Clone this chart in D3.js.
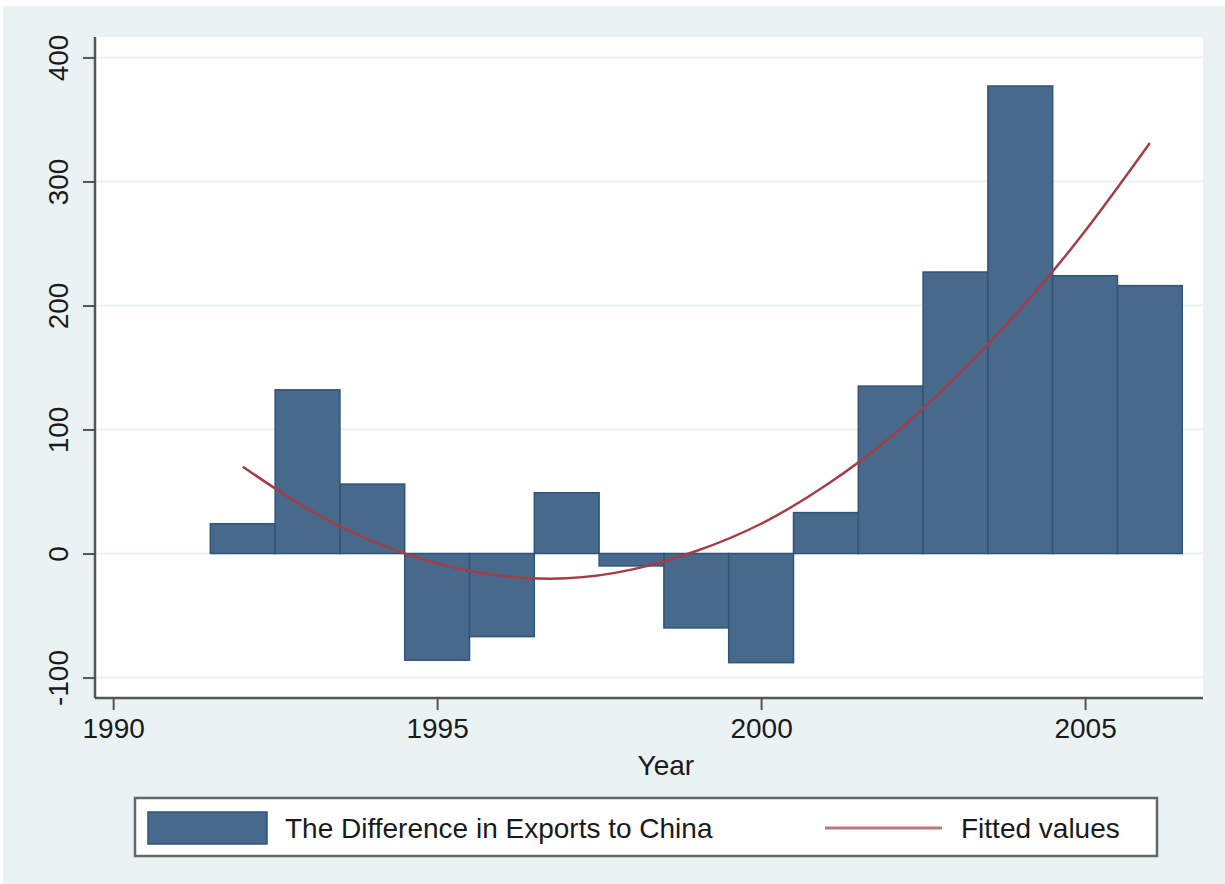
<!DOCTYPE html>
<html lang="en">
<head>
<meta charset="UTF-8">
<title>Difference in Exports to China</title>
<script src="https://d3js.org/d3.v7.min.js"></script>
<style>
  body { margin: 0; background: #fff; }
  text { font-family: "Liberation Sans", Arial, Helvetica, sans-serif; fill: #1a1a1a; }
</style>
</head>
<body>
<svg></svg>
<script>
    // data
    var years = [1992, 1993, 1994, 1995, 1996, 1997, 1998, 1999, 2000, 2001, 2002, 2003, 2004, 2005, 2006];
    var diffExports = [24, 132, 56, -86, -67, 49, -10, -60, -88, 33, 135, 227, 377, 224, 216];
    var fittedValues = [70, 36, 10, -8, -18, -20, -13, 2, 24, 55, 94, 142, 197, 260, 331];
    var xTicks = [1990, 1995, 2000, 2005];
    var yTicks = [-100, 0, 100, 200, 300, 400];
    var legendLabels = ["The Difference in Exports to China", "Fitted values"];

    var width = 1225, height = 884;
    var plot = {left: 95, right: 1203, top: 37, bottom: 698};

    var barColor = "#476a8c", barEdge = "#2f557a", lineColor = "#a23e47";
    var bgColor = "#eaf2f3";

    var svg = d3.select("svg").attr("width", width).attr("height", height);

    svg.append("rect")
        .attr("x", 3).attr("y", 6)
        .attr("width", width - 3).attr("height", height - 6)
        .attr("fill", bgColor);

    svg.append("rect")
        .attr("x", plot.left).attr("y", plot.top)
        .attr("width", plot.right - plot.left).attr("height", plot.bottom - plot.top)
        .attr("fill", "#fff");

    var x = d3.scaleLinear().domain([1989.72, 2006.82]).range([plot.left, plot.right]);
    var y = d3.scaleLinear().domain([-116.5, 416.5]).range([plot.bottom, plot.top]);

    // gridlines
    svg.append("g").selectAll("line")
        .data(yTicks)
        .enter().append("line")
        .attr("x1", plot.left).attr("x2", plot.right)
        .attr("y1", function (d) { return y(d); })
        .attr("y2", function (d) { return y(d); })
        .attr("stroke", bgColor)
        .attr("stroke-width", 2);

    // bars, one year wide
    svg.append("g").selectAll("rect")
        .data(years)
        .enter().append("rect")
        .attr("x", function (d) { return x(d - 0.5); })
        .attr("width", function (d) { return x(d + 0.5) - x(d - 0.5); })
        .attr("y", function (d, i) { return y(Math.max(0, diffExports[i])); })
        .attr("height", function (d, i) { return Math.abs(y(diffExports[i]) - y(0)); })
        .attr("fill", barColor)
        .attr("stroke", barEdge)
        .attr("stroke-width", 1.5);

    // fitted line
    var line = d3.line()
        .x(function (d) { return x(d); })
        .y(function (d, i) { return y(fittedValues[i]); })
        .curve(d3.curveNatural);

    svg.append("path")
        .datum(years)
        .attr("d", line)
        .attr("fill", "none")
        .attr("stroke", lineColor)
        .attr("stroke-width", 2.5);

    // axes
    var yAxis = d3.axisLeft(y).tickValues(yTicks).tickFormat(function (d) { return String(d); })
        .tickSize(12).tickPadding(14);
    var gy = svg.append("g").attr("transform", "translate(" + plot.left + ",0)").call(yAxis);
    gy.select(".domain").attr("d", "M0," + plot.top + "V" + plot.bottom).attr("stroke", "#555").attr("stroke-width", 2.5);
    gy.selectAll(".tick line").attr("stroke", "#555").attr("stroke-width", 2);
    gy.selectAll(".tick text")
        .attr("font-size", 28)
        .attr("x", null).attr("dy", null)
        .attr("text-anchor", "middle")
        .attr("transform", "translate(-27,0) rotate(-90)");

    var xAxis = d3.axisBottom(x).tickValues(xTicks).tickFormat(function (d) { return String(d); })
        .tickSize(12).tickPadding(8);
    var gx = svg.append("g").attr("transform", "translate(0," + plot.bottom + ")").call(xAxis);
    gx.select(".domain").attr("d", "M" + plot.left + ",0H" + plot.right).attr("stroke", "#555").attr("stroke-width", 2.5);
    gx.selectAll(".tick line").attr("stroke", "#555").attr("stroke-width", 2);
    gx.selectAll(".tick text").attr("font-size", 28);

    svg.append("text")
        .attr("x", (x(1998) + x(1999)) / 2 + 2).attr("y", 775)
        .attr("text-anchor", "middle")
        .attr("font-size", 28)
        .text("Year");

    // legend
    var legend = svg.append("g");
    legend.append("rect")
        .attr("x", 135).attr("y", 798)
        .attr("width", 1022).attr("height", 58)
        .attr("fill", "#fff")
        .attr("stroke", "#666")
        .attr("stroke-width", 2.5);
    legend.append("rect")
        .attr("x", 148).attr("y", 812)
        .attr("width", 119).attr("height", 32)
        .attr("fill", barColor)
        .attr("stroke", barEdge)
        .attr("stroke-width", 1.5);
    legend.append("text")
        .attr("x", 285).attr("y", 838)
        .attr("font-size", 28)
        .text(legendLabels[0]);
    legend.append("line")
        .attr("x1", 825).attr("x2", 942)
        .attr("y1", 828).attr("y2", 828)
        .attr("stroke", lineColor)
        .attr("stroke-width", 3)
        .attr("stroke-opacity", 0.7);
    legend.append("text")
        .attr("x", 961).attr("y", 838)
        .attr("font-size", 28)
        .text(legendLabels[1]);
</script>
</body>
</html>
